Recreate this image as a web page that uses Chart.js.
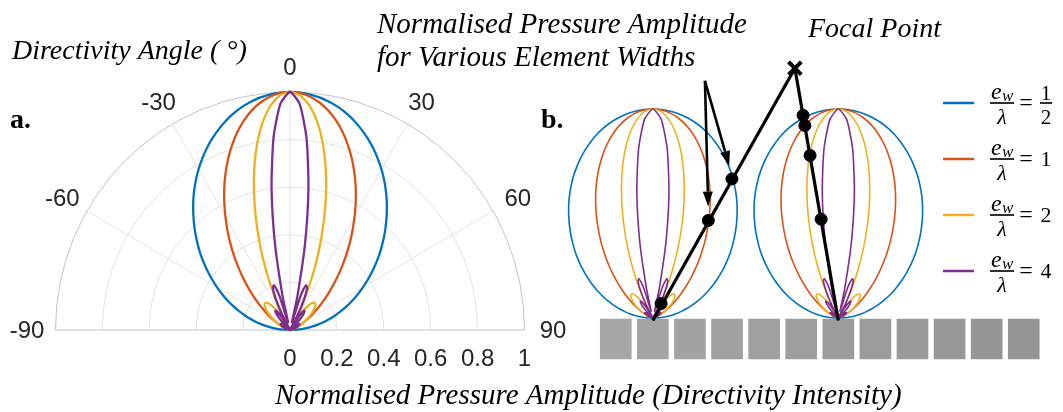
<!DOCTYPE html>
<html>
<head>
<meta charset="utf-8">
<script src="https://cdn.jsdelivr.net/npm/chart.js@4.4.0/dist/chart.umd.min.js"></script>
<style>
html,body{margin:0;padding:0;background:#fff;}
#wrap{position:relative;width:1063px;height:412px;}
</style>
</head>
<body>
<div id="wrap"><canvas id="c"></canvas></div>
<script>
// ---------- DATA ----------
// directivity angle (deg), one side; the pattern is symmetric about 0
const anglesDeg = [0,2.5,5,7.5,10,12.5,15,17.5,20,22.5,25,27.5,30,32.5,35,37.5,40,42.5,45,47.5,50,52.5,55,57.5,60,62.5,65,67.5,70,72.5,75,77.5,80,82.5,85,87.5,90];
// normalised pressure amplitude for e_w/λ = 1/2, 1, 2, 4
const ampHalf = [1.000,0.998,0.993,0.985,0.973,0.958,0.940,0.919,0.895,0.869,0.841,0.811,0.780,0.747,0.713,0.678,0.642,0.606,0.570,0.534,0.499,0.463,0.428,0.393,0.359,0.326,0.294,0.262,0.231,0.200,0.170,0.141,0.112,0.084,0.056,0.028,0.000];
const ampOne  = [1.000,0.996,0.984,0.964,0.937,0.903,0.863,0.818,0.769,0.717,0.663,0.607,0.551,0.496,0.443,0.391,0.342,0.296,0.253,0.214,0.179,0.148,0.120,0.096,0.075,0.058,0.043,0.031,0.022,0.015,0.009,0.005,0.003,0.001,0.000,0.000,0.000];
const ampTwo  = [1.000,0.987,0.947,0.884,0.801,0.702,0.593,0.479,0.366,0.258,0.159,0.073,0.000,0.058,0.101,0.131,0.148,0.155,0.153,0.145,0.133,0.118,0.101,0.084,0.069,0.054,0.041,0.030,0.021,0.014,0.009,0.005,0.003,0.001,0.000,0.000,0.000];
const ampFour = [1.000,0.950,0.809,0.603,0.370,0.147,0.033,0.150,0.200,0.191,0.141,0.071,0.000,0.056,0.091,0.102,0.092,0.070,0.041,0.012,0.013,0.032,0.043,0.047,0.046,0.041,0.034,0.027,0.020,0.014,0.009,0.005,0.003,0.001,0.000,0.000,0.000];
const widthRatios = ['1/2','1','2','4'];

// polar axis ticks (panel a)
const ringTicks = [0.2,0.4,0.6,0.8,1];
const radialTickValues = [0,0.2,0.4,0.6,0.8,1];
const radialTickLabels = ['0','0.2','0.4','0.6','0.8','1'];
const angleTicks = [-90,-60,-30,0,30,60,90];

// transducer array (panel b)
const elementIndex = [0,1,2,3,4,5,6,7,8,9,10,11];
const elementPitch = 0.1818;          // in directivity units
const elementTop = -0.005, elementBottom = -0.196;
const leftElement = 1, rightElement = 6;
const focalPoint = {x: 0.878, y: 1.195};
const leftDotR  = [0.77, 0.54, 0.08];
const rightDotR = [0.985, 0.935, 0.79, 0.48];
const arrowStart = {x: 0.437, y: 1.135};
const arrowTips  = [{x: 0.453, y: 0.533}, {x: 0.556, y: 0.727}];

// ---------- STYLE ----------
const seriesAmps = [ampHalf, ampOne, ampTwo, ampFour];
const seriesColors = ['#0072BD','#D95319','#EDB120','#7E2F8E'];
const seriesOrder = [40,30,20,10];

function polarPoints(amp, x0) {
  const pts = [];
  for (let i = anglesDeg.length - 1; i > 0; i--) {
    const a = -anglesDeg[i] * Math.PI / 180;
    pts.push({x: x0 + amp[i] * Math.sin(a), y: amp[i] * Math.cos(a)});
  }
  for (let i = 0; i < anglesDeg.length; i++) {
    const a = anglesDeg[i] * Math.PI / 180;
    pts.push({x: x0 + amp[i] * Math.sin(a), y: amp[i] * Math.cos(a)});
  }
  return pts;
}

const datasets = [];
// panel a
seriesAmps.forEach((amp, k) => {
  datasets.push({type:'scatter', showLine:true, data: polarPoints(amp, 0), xAxisID:'xA', yAxisID:'yA',
    borderColor: seriesColors[k], borderWidth: 2.3, pointRadius: 0, tension: 0.2, order: seriesOrder[k]});
});
// panel b, two elements
[leftElement, rightElement].forEach(el => {
  seriesAmps.forEach((amp, k) => {
    datasets.push({type:'scatter', showLine:true, data: polarPoints(amp, el * elementPitch), xAxisID:'xB', yAxisID:'yB',
      borderColor: seriesColors[k], borderWidth: 1.6, pointRadius: 0, tension: 0.2, order: seriesOrder[k]});
  });
});
// elements
const elementColors = elementIndex.map(i => {
  const g = Math.round(166 - i * 1.6);
  return `rgb(${g},${g},${g})`;
});
datasets.push({type:'bar', xAxisID:'xB', yAxisID:'yB', grouped: false, stack: 'elements',
  data: elementIndex.map(i => ({x: i * elementPitch, y: [elementBottom, elementTop]})),
  backgroundColor: elementColors, borderWidth: 0, barThickness: 31, order: 100});
// rays and dots
function rayDots(el, rs) {
  const ax = el * elementPitch;
  const dx = focalPoint.x - ax, dy = focalPoint.y;
  const L = Math.hypot(dx, dy);
  return rs.map(r => ({x: ax + dx * r / L, y: dy * r / L}));
}
[leftElement, rightElement].forEach(el => {
  datasets.push({type:'scatter', showLine:true, xAxisID:'xB', yAxisID:'yB',
    data: [{x: el * elementPitch, y: -0.012}, {x: focalPoint.x, y: focalPoint.y}],
    borderColor:'#000', borderWidth: 3.2, pointRadius: 0, order: 5});
});
datasets.push({type:'scatter', xAxisID:'xB', yAxisID:'yB', data: rayDots(leftElement, leftDotR),
  backgroundColor:'#000', borderColor:'#000', pointRadius: 6, order: 4});
datasets.push({type:'scatter', xAxisID:'xB', yAxisID:'yB', data: rayDots(rightElement, rightDotR),
  backgroundColor:'#000', borderColor:'#000', pointRadius: 6, order: 4});
datasets.push({type:'scatter', xAxisID:'xB', yAxisID:'yB', data: [focalPoint],
  pointStyle:'crossRot', pointRadius: 9, borderWidth: 4, borderColor:'#000', order: 3});

const SERIF = '"Liberation Serif", "Times New Roman", serif';
const SANS = '"Liberation Sans", Arial, sans-serif';

const figurePlugin = {
  id: 'figure',
  beforeDatasetsDraw(chart) {
    const ctx = chart.ctx, xa = chart.scales.xA, ya = chart.scales.yA;
    const cx = xa.getPixelForValue(0), cy = ya.getPixelForValue(0);
    const ux = xa.getPixelForValue(1) - cx, uy = cy - ya.getPixelForValue(1);
    ctx.save();
    ctx.lineWidth = 1;
    angleTicks.forEach(a => {
      const t = a * Math.PI / 180;
      ctx.strokeStyle = (Math.abs(a) === 90) ? '#c3c3c3' : '#e2e2e2';
      ctx.beginPath(); ctx.moveTo(cx, cy);
      ctx.lineTo(cx + ux * Math.sin(t), cy - uy * Math.cos(t)); ctx.stroke();
    });
    ringTicks.forEach(r => {
      ctx.strokeStyle = r === 1 ? '#c3c3c3' : '#e2e2e2';
      ctx.beginPath(); ctx.ellipse(cx, cy, r * ux, r * uy, 0, Math.PI, 2 * Math.PI); ctx.stroke();
    });
    ctx.restore();
  },
  afterDatasetsDraw(chart) {
    const ctx = chart.ctx, xa = chart.scales.xA, ya = chart.scales.yA;
    const xb = chart.scales.xB, yb = chart.scales.yB;
    const cx = xa.getPixelForValue(0), cy = ya.getPixelForValue(0);
    ctx.save();
    // angle labels
    ctx.fillStyle = '#262626';
    ctx.font = '24px ' + SANS;
    ctx.textAlign = 'center'; ctx.textBaseline = 'middle';
    angleTicks.forEach(a => {
      const t = a * Math.PI / 180;
      ctx.fillText(String(a), cx + 263 * Math.sin(t), cy - 263 * Math.cos(t) + 1);
    });
    radialTickValues.forEach((v, i) => {
      ctx.fillText(radialTickLabels[i], xa.getPixelForValue(v), cy + 29);
    });
    // titles
    ctx.fillStyle = '#000';
    ctx.textAlign = 'left'; ctx.textBaseline = 'alphabetic';
    ctx.font = 'italic 28px ' + SERIF;
    ctx.fillText('Directivity Angle ( °)', 12, 59);
    ctx.font = 'italic 29px ' + SERIF;
    ctx.fillText('Normalised Pressure Amplitude', 377, 33);
    ctx.fillText('for Various Element Widths', 377, 66);
    ctx.font = 'italic 28px ' + SERIF;
    ctx.fillText('Focal Point', 808, 37);
    ctx.font = 'italic 29px ' + SERIF;
    ctx.fillText('Normalised Pressure Amplitude (Directivity Intensity)', 275, 404);
    ctx.font = 'bold 28px ' + SERIF;
    ctx.fillText('a.', 10, 128);
    ctx.fillText('b.', 541, 128);
    // arrows
    const sx = xb.getPixelForValue(arrowStart.x), sy = yb.getPixelForValue(arrowStart.y);
    arrowTips.forEach(tp => {
      const tx = xb.getPixelForValue(tp.x), ty = yb.getPixelForValue(tp.y);
      const ang = Math.atan2(ty - sy, tx - sx);
      const hl = 15, hw = 5;
      const bx = tx - hl * Math.cos(ang), by = ty - hl * Math.sin(ang);
      ctx.strokeStyle = '#000'; ctx.lineWidth = 2.6;
      ctx.beginPath(); ctx.moveTo(sx, sy); ctx.lineTo(bx, by); ctx.stroke();
      ctx.fillStyle = '#000';
      ctx.beginPath(); ctx.moveTo(tx, ty);
      ctx.lineTo(bx + hw * Math.sin(ang), by - hw * Math.cos(ang));
      ctx.lineTo(bx - hw * Math.sin(ang), by + hw * Math.cos(ang));
      ctx.closePath(); ctx.fill();
    });
    // legend
    widthRatios.forEach((lab, i) => {
      const y = 103 + i * 56;
      ctx.strokeStyle = seriesColors[i]; ctx.lineWidth = 2.5;
      ctx.beginPath(); ctx.moveTo(943, y); ctx.lineTo(974, y); ctx.stroke();
      ctx.fillStyle = '#000';
      ctx.fillRect(990, y - 0.8, 24, 1.6);
      ctx.textAlign = 'left'; ctx.textBaseline = 'alphabetic';
      ctx.font = 'italic 24px ' + SERIF;
      ctx.fillText('e', 991, y - 4);
      ctx.font = 'italic 17px ' + SERIF;
      ctx.fillText('w', 1002, y - 2);
      ctx.textAlign = 'center';
      ctx.font = 'italic 22px ' + SERIF;
      ctx.fillText('λ', 1002, y + 21);
      ctx.font = '24px ' + SERIF;
      ctx.textBaseline = 'middle';
      ctx.fillText('=', 1026, y + 1);
      if (lab.indexOf('/') >= 0) {
        const [n, d] = lab.split('/');
        ctx.fillRect(1040, y - 0.8, 12, 1.6);
        ctx.textBaseline = 'alphabetic';
        ctx.font = '21px ' + SERIF;
        ctx.fillText(n, 1046, y - 3);
        ctx.fillText(d, 1046, y + 21);
      } else {
        ctx.font = '22px ' + SERIF;
        ctx.fillText(lab, 1046, y + 1);
      }
    });
    ctx.restore();
  }
};

new Chart(document.getElementById('c'), {
  type: 'scatter',
  data: { datasets },
  options: {
    responsive: true, maintainAspectRatio: false, animation: false, events: [],
    layout: { padding: 0, autoPadding: false },
    plugins: { legend: { display: false }, tooltip: { enabled: false }, title: { display: false } },
    scales: {
      xA: { type:'linear', axis:'x', display:false, min:-1.2367, max:3.2964, offset:false },
      yA: { type:'linear', axis:'y', display:false, min:-0.3445, max:1.3866 },
      xB: { type:'linear', axis:'x', display:false, min:-3.0186, max:2.1922, offset:false },
      yB: { type:'linear', axis:'y', display:false, min:-0.4498, max:1.5215 }
    }
  },
  plugins: [figurePlugin]
});
</script>
</body>
</html>
